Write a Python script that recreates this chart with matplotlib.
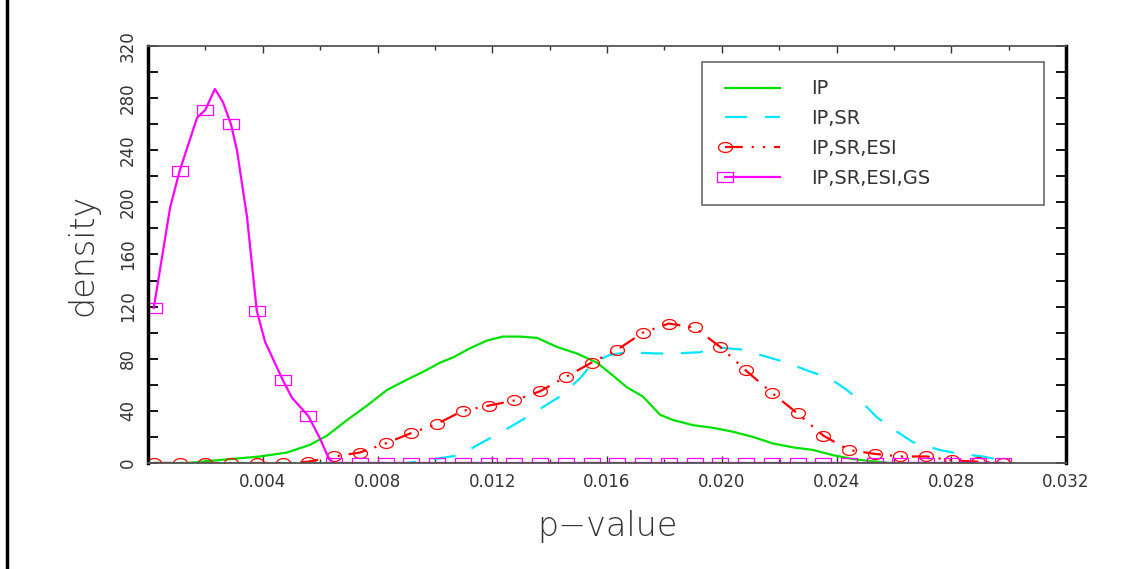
import numpy as np
import matplotlib
matplotlib.use('Agg')
import matplotlib.pyplot as plt
from matplotlib.lines import Line2D
from matplotlib.legend_handler import HandlerLine2D


# p-values where the symbols sit (shared by the ESI and GS curves)
p_grid = [0.00020, 0.00110, 0.00200, 0.00289, 0.00379, 0.00469, 0.00559, 0.00648,
          0.00738, 0.00828, 0.00918, 0.01007, 0.01097, 0.01187, 0.01277, 0.01366,
          0.01456, 0.01546, 0.01636, 0.01725, 0.01815, 0.01905, 0.01995, 0.02084,
          0.02174, 0.02264, 0.02354, 0.02443, 0.02533, 0.02623, 0.02713, 0.02802,
          0.02892, 0.02982]

# IP
ip_x = [0.00020, 0.00136, 0.00286, 0.00390, 0.00484, 0.00565, 0.00624, 0.00694,
        0.00763, 0.00833, 0.00903, 0.00959, 0.01018, 0.01063, 0.01122, 0.01182,
        0.01237, 0.01297, 0.01356, 0.01426, 0.01495, 0.01565, 0.01610, 0.01670,
        0.01725, 0.01785, 0.01830, 0.01900, 0.01969, 0.02039, 0.02109, 0.02178,
        0.02248, 0.02318, 0.02388, 0.02457, 0.02517, 0.02586, 0.02982]
ip_y = [0, 0, 3, 5, 8, 14, 21, 33, 44, 56, 64, 70, 77, 81, 88, 94, 97, 97, 96, 89,
        84, 77, 69, 58, 51, 37, 33, 29, 27, 24, 20, 15, 12, 10, 6, 3, 1.5, 0, 0]

# IP,SR
sr_x = [0.00020, 0.00900, 0.00937, 0.01087, 0.01150, 0.01234, 0.01304, 0.01377,
        0.01436, 0.01506, 0.01551, 0.01610, 0.01670, 0.01774, 0.01830, 0.01924,
        0.01983, 0.02018, 0.02074, 0.02133, 0.02227, 0.02297, 0.02377, 0.02436,
        0.02492, 0.02541, 0.02611, 0.02666, 0.02760, 0.02830, 0.02910, 0.02998]
sr_y = [0, 0, 1, 6, 14, 24, 33, 43, 51, 65, 77, 83, 85, 84, 84, 85, 89, 88, 87, 83,
        77, 71, 65, 56, 46, 35, 24, 16, 10, 7, 5, 1]

# IP,SR,ESI (values at p_grid)
esi_y = [0, 0, 0, 0, 0, 0, 1, 5, 8, 15, 23, 30, 40, 44, 48, 55, 66, 77, 87, 100,
         107, 104, 89, 71, 54, 38, 21, 10, 7, 5, 5, 2, 1, 0]

# IP,SR,ESI,GS: line and symbols at p_grid
gs_x = [0.00020, 0.00077, 0.00110, 0.00171, 0.00200, 0.00233, 0.00261, 0.00289,
        0.00310, 0.00345, 0.00379, 0.00408, 0.00469, 0.00502, 0.00559, 0.00599,
        0.00627, 0.00645, 0.02982]
gs_y = [119, 196, 224, 265, 271, 287, 277, 260, 240, 189, 117, 93, 64, 50, 36, 19,
        5, 0, 0]
gs_marks = [119, 224, 271, 260, 117, 64, 36, 0, 0, 0, 0, 0, 0, 0, 0, 0, 0, 0, 0,
            0, 0, 0, 0, 0, 0, 0, 0, 0, 0, 0, 0, 0, 0, 0]

xticks = [0.004, 0.008, 0.012, 0.016, 0.020, 0.024, 0.028, 0.032]
xlabels = ['0.004', '0.008', '0.012', '0.016', '0.020', '0.024', '0.028', '0.032']
yticks = [0, 40, 80, 120, 160, 200, 240, 280, 320]
labels = ['IP', 'IP,SR', 'IP,SR,ESI', 'IP,SR,ESI,GS']

# wide symbols like the original
rect = [(-1.6, -1), (1.6, -1), (1.6, 1), (-1.6, 1), (-1.6, -1)]
t = np.linspace(0, 2 * np.pi, 40)
ellipse = list(zip(1.4 * np.cos(t), np.sin(t)))

fig = plt.figure(figsize=(11.36, 5.69), dpi=100)
ax = fig.add_axes([0.1303, 0.1863, 0.8081, 0.7329])

ax.plot(ip_x, ip_y, color='#00e000', lw=1.6, label=labels[0])
ax.plot(sr_x, sr_y, color='#00e5ff', lw=1.6, dashes=(10, 8), label=labels[1])
ax.plot(p_grid, esi_y, color='red', lw=1.6, dashes=(8, 4, 1, 4, 1, 4),
        marker=ellipse, ms=10, mfc='none', mec='red', mew=0.9, label=labels[2])
ax.plot(gs_x, gs_y, color='magenta', lw=1.6)
ax.plot(p_grid, gs_marks, ls='none', marker=rect, ms=11, mfc='none',
        mec='magenta', mew=0.9)

ax.set_xlim(0, 0.032)
ax.set_ylim(0, 320)
ax.set_xticks(xticks)
ax.set_xticklabels(xlabels)
ax.set_xticks([0.002 * i for i in range(17)], minor=True)
ax.set_yticks(yticks)
ax.set_yticklabels([str(v) for v in yticks], rotation=90, va='center',
                   family=['Liberation Sans Narrow', 'DejaVu Sans'], fontsize=12)
ax.set_yticks(list(range(0, 321, 20)), minor=True)

ax.tick_params(axis='x', which='major', direction='in', length=5, width=1,
               top=True, labelsize=12, pad=7, colors='#333333')
ax.tick_params(axis='x', which='minor', direction='in', length=3, width=1, top=True,
               color='#333333')
ax.tick_params(axis='y', which='both', direction='in', length=7, width=1.3,
               right=True, pad=8, labelcolor='#333333')
for lab in ax.get_xticklabels():
    lab.set_color('#333333')

for side in ['left', 'right']:
    ax.spines[side].set_linewidth(2.5)
    ax.spines[side].set_color('black')
for side in ['top', 'bottom']:
    ax.spines[side].set_linewidth(1.3)
    ax.spines[side].set_color('#555555')

ax.set_xlabel('p\u2212value', fontsize=24, fontweight='light', color='#333333',
              labelpad=14)
ax.set_ylabel('density', fontsize=24, fontweight='light', color='#333333',
              labelpad=14)


class MarkerLeft(HandlerLine2D):
    def create_artists(self, *args, **kwargs):
        arts = super().create_artists(*args, **kwargs)
        for a in arts:
            a.set_markevery([0])
        return arts


handles = ax.get_lines()[:3]
handles.append(Line2D([], [], color='magenta', lw=1.6, marker=rect, ms=11,
                      mfc='none', mec='magenta', mew=0.9))
leg = fig.legend(handles, labels, loc='upper left',
                 bbox_to_anchor=(702 / 1136, 1 - 200 / 569, 342 / 1136, 138 / 569),
                 mode='expand', borderaxespad=0, fontsize=14, numpoints=2,
                 handlelength=3.4, handletextpad=1.3, labelspacing=0.55,
                 borderpad=0.9, fancybox=False, edgecolor='#444444',
                 handler_map={Line2D: MarkerLeft()})
leg.get_frame().set_linewidth(1.2)
for txt in leg.get_texts():
    txt.set_color('#333333')

fig.add_artist(Line2D([0.006, 0.006], [0, 1], transform=fig.transFigure,
                      color='black', lw=2.5))

fig.savefig('out.png', dpi=100)
